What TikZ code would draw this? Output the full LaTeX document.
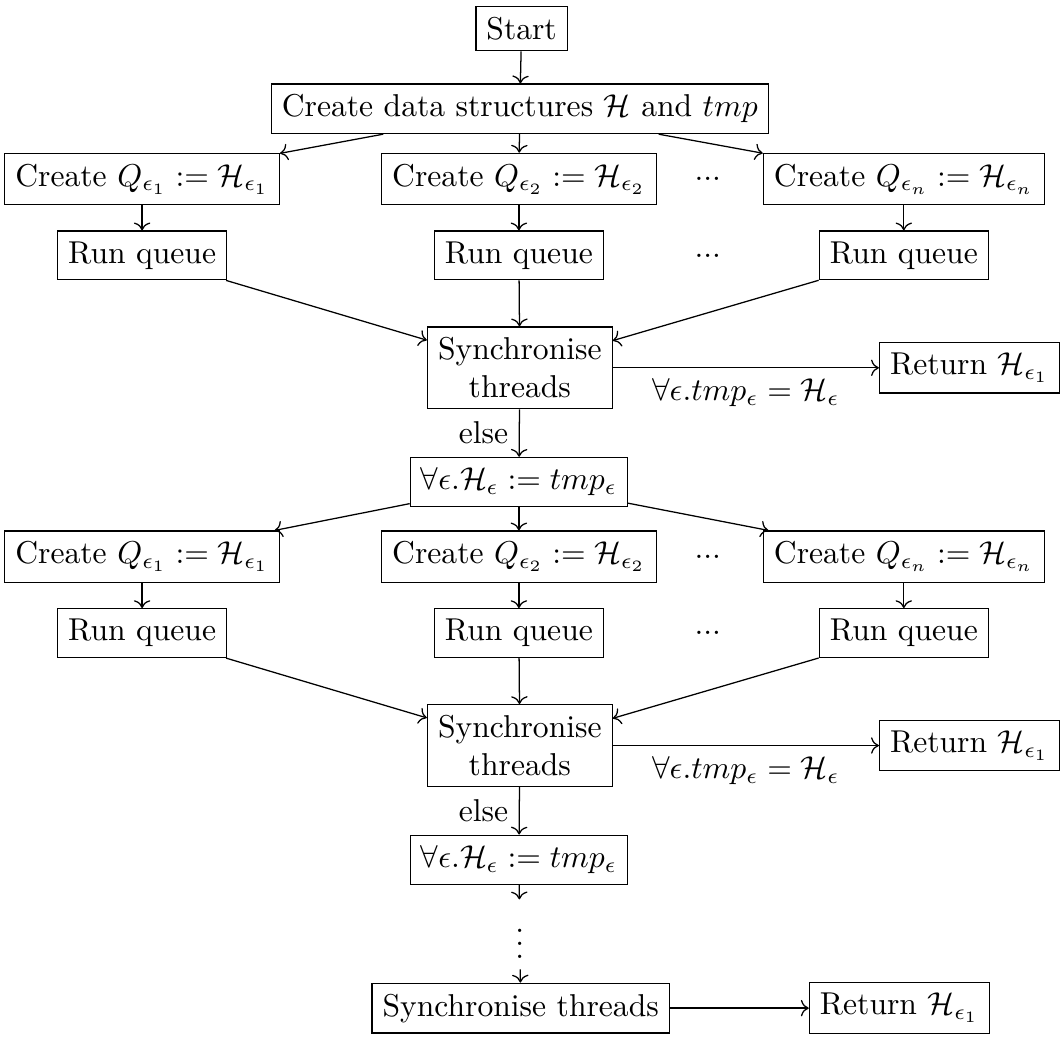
\documentclass[tikz,border=0pt]{standalone}
\usepackage{amsmath, amssymb}
\usetikzlibrary{arrows.meta, calc, positioning}

\begin{document}
\begin{tikzpicture}[box/.style={draw, align=center}]
\useasboundingbox (0,0) rectangle (11.82,-11.53);
\node[box] (start) at (5.80,-0.32) {Start};
\node[box] (data) at (5.78,-1.21) {Create data structures $\mathcal{H}$ and $tmp$};
\draw[->] (start)--(data);
% two rounds of queues, the second one starts from the update box
\foreach \r/\dy/\src in {1/0/data, 2/4.20/upd1}{
  \node[box] (sync\r) at (5.78,-4.09-\dy) {Synchronise\\threads};
  \foreach \k/\s/\xc in {a/1/1.58, b/2/5.77, c/n/10.05}{
    \node[box] (q\k\r) at (\xc,-1.99-\dy) {Create $Q_{\epsilon_\s} := \mathcal{H}_{\epsilon_\s}$};
    \node[box] (run\k\r) at (\xc,-2.84-\dy) {Run queue};
    \draw[->] (\src)--(q\k\r);
    \draw[->] (q\k\r)--(run\k\r);
    \draw[->] (run\k\r)--(sync\r);
  }
  \node (dq\r) at (7.87,-1.99-\dy) {...};
  \node (dr\r) at (7.87,-2.84-\dy) {...};
  \node[box] (ret\r) at (10.78,-4.09-\dy) {Return $\mathcal{H}_{\epsilon_1}$};
  \draw[->] (sync\r)--(ret\r) node[midway,below] {$\forall\epsilon.tmp_\epsilon = \mathcal{H}_\epsilon$};
  \node[box] (upd\r) at (5.77,-5.36-\dy) {$\forall\epsilon.\mathcal{H}_\epsilon := tmp_\epsilon$};
  \draw[->] (sync\r)--(upd\r) node[midway,left] {else};
}
\node (vd) at (5.78,-10.39) {$\vdots$};
\node[box] (syncend) at (5.79,-11.21) {Synchronise threads};
\node[box] (retend) at (10.00,-11.21) {Return $\mathcal{H}_{\epsilon_1}$};
\draw[->] (upd2)--(vd);
\draw[->] (vd)--(syncend);
\draw[->] (syncend)--(retend);
\end{tikzpicture}
\end{document}
